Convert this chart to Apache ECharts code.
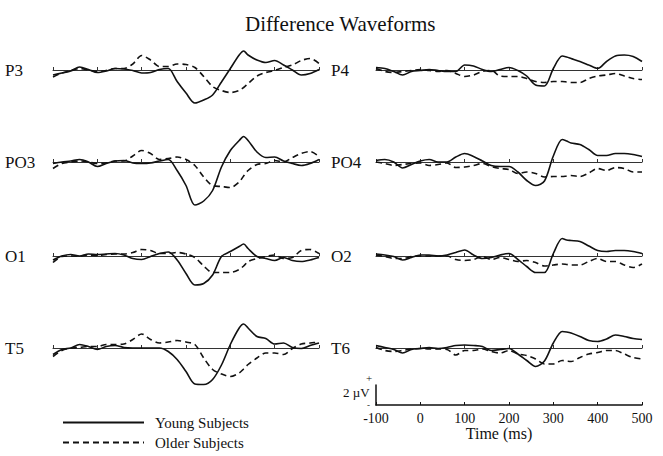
<!DOCTYPE html>
<html>
<head>
<meta charset="utf-8">
<title>Difference Waveforms</title>
<script src="https://cdn.jsdelivr.net/npm/echarts@6/dist/echarts.min.js"></script>
<style>
  html, body { margin: 0; padding: 0; background: #fff; }
  #chart { width: 663px; height: 456px; }
</style>
</head>
<body>
<div id="chart"></div>
<script>
// time points (ms), shared by every waveform
const times = [-100, -80, -60, -40, -20, 0, 20, 40, 60, 80, 100, 120, 140, 160, 180, 200,
  220, 240, 260, 280, 300, 320, 330, 340, 360, 380, 400, 420, 440, 460, 480, 500];
const timeTicks = [-100, 0, 100, 200, 300, 400, 500];

// amplitudes in microvolts
const youngP3 = [-0.5, -0.3, -0.1, 0.3, 0.05, -0.25, -0.1, 0.15, 0.1, -0.05, -0.3, -0.25, 0.05, 0.15, -1.15, -2.3,
  -3.3, -3.0, -2.5, -1.2, 0.15, 1.5, 1.9, 1.5, 1.0, 0.75, 0.95, 0.5, 0, -0.5, -0.35, 0.05];
const olderP3 = [-0.7, -0.3, -0.05, 0.15, 0, -0.15, -0.05, 0.15, 0.15, 0.6, 1.45, 1.0, 0.35, 0.35, 0.6, 0.55,
  0.25, -0.65, -1.65, -2.05, -2.25, -2.05, -1.75, -1.35, -0.6, -0.25, -0.05, 0.25, 0.5, 0.95, 1.15, 0.65];

const youngPO3 = [-0.15, 0, 0.1, 0.25, 0, -0.45, -0.15, 0.1, 0.15, -0.1, -0.15, -0.1, 0.1, 0.25, -0.85, -2.35,
  -4.3, -3.9, -2.85, -0.5, 1.15, 2.15, 2.55, 2.15, 1.0, 0.45, 0.5, 0.1, -0.15, -0.35, -0.15, 0.25];
const olderPO3 = [-0.65, -0.15, 0, 0.1, 0, -0.15, -0.1, 0.1, 0.1, 0.6, 1.15, 0.85, 0.25, 0.35, 0.5, 0.25,
  -0.35, -1.5, -2.35, -2.45, -2.55, -2.0, -1.4, -0.85, -0.25, -0.15, 0.15, 0, 0.45, 0.85, 1.05, 0.55];

const youngO1 = [-0.4, 0, 0.15, 0, 0.2, 0.15, 0.2, 0.25, 0.1, -0.25, -0.35, -0.05, 0.25, 0.4, -0.4, -1.75,
  -2.9, -2.75, -1.9, -0.05, 0.45, 0.95, 1.2, 0.75, -0.05, -0.25, -0.45, -0.15, -0.45, -0.55, -0.4, -0.15];
const olderO1 = [-0.65, -0.05, 0, 0, 0.1, 0.05, 0.15, 0.2, 0.2, 0.35, 0.65, 0.55, 0.25, 0.25, 0.35, 0.2,
  -0.15, -1.0, -1.65, -1.65, -1.65, -1.35, -1.0, -0.55, -0.25, -0.05, 0.1, -0.25, -0.15, 0.55, 0.65, 0.25];

const youngT5 = [-0.65, -0.15, 0, 0.35, 0.15, -0.15, 0.15, 0.25, 0.05, 0, 0, 0, 0, -0.35, -1.15, -2.35,
  -3.6, -3.65, -3.15, -1.7, 0.35, 2.0, 2.4, 2.0, 1.15, 0.95, 0.4, 0.5, 0.05, -0.05, 0.25, 0.5];
const olderT5 = [-0.85, -0.25, 0, 0.05, 0.15, 0.15, 0.35, 0.35, 0.4, 0.85, 1.4, 0.85, 0.5, 0.6, 0.75, 0.6,
  0.35, -1.0, -2.15, -2.6, -2.85, -2.5, -2.1, -1.65, -1.0, -0.5, -0.5, -0.65, -0.05, 0.4, 0.5, 0.6];

const youngP4 = [0.25, 0.15, -0.15, -0.5, -0.15, -0.05, 0.05, -0.05, -0.15, -0.15, 0.5, 0.4, 0.05, -0.15, 0.05, 0.25,
  -0.05, -0.6, -1.5, -1.6, 0.15, 1.4, 1.3, 1.15, 0.85, 0.5, 0.15, 0.85, 1.4, 1.5, 1.35, 0.85];
const olderP4 = [0.15, -0.15, -0.25, -0.15, -0.05, 0.05, -0.05, -0.15, -0.05, -0.35, -0.65, -0.5, -0.15, -0.05, -0.6, -0.65,
  -0.65, -0.85, -1.15, -1.25, -1.15, -1.15, -1.2, -1.25, -1.25, -0.85, -0.6, -0.5, -0.35, -0.6, -0.85, -0.95];

const youngPO4 = [0.15, 0.25, 0, -0.6, -0.25, 0.1, 0.25, 0, 0, 0.5, 0.85, 0.55, 0.1, -0.35, -0.45, -0.45,
  -1.0, -1.85, -2.35, -1.9, 0.6, 2.25, 2.1, 1.9, 1.75, 1.25, 0.65, 0.65, 0.85, 0.85, 0.75, 0.55];
const olderPO4 = [0, -0.15, -0.35, -0.25, -0.15, -0.1, -0.35, -0.25, -0.1, -0.55, -0.5, -0.35, -0.15, -0.45, -0.65, -0.75,
  -1.15, -1.0, -1.15, -1.5, -1.45, -1.45, -1.4, -1.35, -1.45, -1.1, -0.65, -0.85, -0.55, -0.65, -1.0, -1.0];

const youngO2 = [0.2, 0.1, -0.05, -0.4, -0.15, 0.1, 0.1, 0, 0.1, 0.35, 0.6, 0.1, -0.25, -0.15, 0.1, 0.25,
  -0.35, -1.05, -1.65, -1.65, 0.25, 1.75, 1.6, 1.55, 1.45, 1.0, 0.55, 0.45, 0.55, 0.55, 0.45, 0.25];
const olderO2 = [0.1, -0.05, -0.25, -0.25, -0.05, 0, 0, 0, 0, -0.35, -0.45, -0.35, -0.05, -0.35, -0.15, -0.35,
  -0.55, -0.45, -0.65, -1.0, -0.9, -0.8, -0.85, -0.9, -0.9, -0.55, -0.25, -0.55, -0.55, -0.9, -1.15, -0.8];

const youngT6 = [0.25, 0.05, -0.15, -0.5, -0.15, -0.05, 0.05, -0.05, 0.05, 0.25, 0.3, 0.25, 0.15, -0.25, -0.15, -0.05,
  -0.6, -1.25, -1.85, -1.3, 0.5, 1.65, 1.6, 1.5, 1.15, 0.75, 0.65, 0.9, 1.3, 1.15, 0.95, 0.85];
const olderT6 = [0.05, -0.25, -0.35, -0.25, -0.1, -0.05, -0.1, -0.1, -0.15, -0.7, -0.25, -0.25, -0.1, -0.35, -0.5, -0.25,
  -0.6, -0.75, -1.1, -1.6, -1.6, -1.25, -1.3, -1.35, -0.95, -0.6, -0.45, -0.25, -0.25, -0.6, -0.95, -1.1];

const panels = [
  { label: 'P3', young: youngP3, older: olderP3, col: 0, row: 0 },
  { label: 'PO3', young: youngPO3, older: olderPO3, col: 0, row: 1 },
  { label: 'O1', young: youngO1, older: olderO1, col: 0, row: 2 },
  { label: 'T5', young: youngT5, older: olderT5, col: 0, row: 3 },
  { label: 'P4', young: youngP4, older: olderP4, col: 1, row: 0 },
  { label: 'PO4', young: youngPO4, older: olderPO4, col: 1, row: 1 },
  { label: 'O2', young: youngO2, older: olderO2, col: 1, row: 2 },
  { label: 'T6', young: youngT6, older: olderT6, col: 1, row: 3 }
];

const serif = 'Liberation Serif, Times New Roman, serif';
const ink = '#111';
const colLeft = [53, 376];
const labelLeft = [5, 331];
const rowTop = [40, 132, 226, 318];
const plotW = 266;
const plotH = 80;

const chart = echarts.init(document.getElementById('chart'), null, { renderer: 'svg' });

const grid = [];
const xAxis = [];
const yAxis = [];
const series = [];
const graphic = [];

panels.forEach((p, i) => {
  grid.push({ left: colLeft[p.col], top: rowTop[p.row], width: plotW, height: plotH });
  xAxis.push({
    type: 'value', gridIndex: i, min: -100, max: 500, interval: 100,
    axisLine: { onZero: true, lineStyle: { color: '#333', width: 1 } },
    axisTick: { show: true, inside: true, length: 3, lineStyle: { color: '#333' } },
    axisLabel: { show: false },
    splitLine: { show: false }
  });
  yAxis.push({ type: 'value', gridIndex: i, min: -5, max: 3, show: false });
  series.push({
    name: 'Young Subjects', type: 'line', xAxisIndex: i, yAxisIndex: i,
    data: times.map((t, k) => [t, p.young[k]]),
    smooth: 0.3, symbol: 'none', clip: false,
    lineStyle: { color: ink, width: 1.6, type: 'solid' }, itemStyle: { color: ink }
  });
  series.push({
    name: 'Older Subjects', type: 'line', xAxisIndex: i, yAxisIndex: i,
    data: times.map((t, k) => [t, p.older[k]]),
    smooth: 0.3, symbol: 'none', clip: false,
    lineStyle: { color: ink, width: 1.6, type: [6, 4] }, itemStyle: { color: ink }
  });
  graphic.push({
    type: 'text', left: labelLeft[p.col], top: rowTop[p.row] + 22,
    style: { text: p.label, font: '17px ' + serif, fill: ink }
  });
});

// scale bar + time axis at lower right
grid.push({ left: colLeft[1], top: 385, width: plotW, height: 20 });
xAxis.push({
  type: 'value', gridIndex: 8, min: -100, max: 500, interval: 100,
  axisLine: { onZero: false, lineStyle: { color: ink, width: 1.5 } },
  axisTick: { show: true, inside: true, length: 3, lineStyle: { color: ink } },
  axisLabel: { color: ink, fontFamily: serif, fontSize: 14, margin: 6, customValues: timeTicks },
  splitLine: { show: false },
  name: 'Time (ms)', nameLocation: 'middle', nameGap: 20,
  nameTextStyle: { color: ink, fontFamily: serif, fontSize: 16, padding: [0, 20, 0, 0] }
});
yAxis.push({
  type: 'value', gridIndex: 8, min: 0, max: 2,
  axisLine: { show: true, onZero: false, lineStyle: { color: ink, width: 1.5 } },
  axisTick: { show: false }, axisLabel: { show: false }, splitLine: { show: false }
});
graphic.push(
  { type: 'text', left: 343, top: 386, style: { text: '2 µV', font: '13px ' + serif, fill: ink } },
  { type: 'text', left: 366, top: 372, style: { text: '+', font: '11px ' + serif, fill: ink } },
  { type: 'text', left: 367, top: 400, style: { text: '-', font: '9px ' + serif, fill: ink } }
);

chart.setOption({
  backgroundColor: '#fff',
  animation: false,
  title: {
    text: 'Difference Waveforms', left: 240, top: 8,
    textStyle: { color: ink, fontFamily: serif, fontSize: 21, fontWeight: 'normal' }
  },
  legend: {
    data: ['Young Subjects', 'Older Subjects'],
    orient: 'vertical', left: 62, top: 415, padding: 0,
    itemWidth: 81, itemHeight: 14, itemGap: 5,
    itemStyle: { color: 'rgba(0,0,0,0)', borderWidth: 0, opacity: 0 },
    textStyle: { color: ink, fontFamily: serif, fontSize: 15, padding: [0, 0, 0, 6] }
  },
  grid: grid,
  xAxis: xAxis,
  yAxis: yAxis,
  series: series,
  graphic: graphic
});
</script>
</body>
</html>
